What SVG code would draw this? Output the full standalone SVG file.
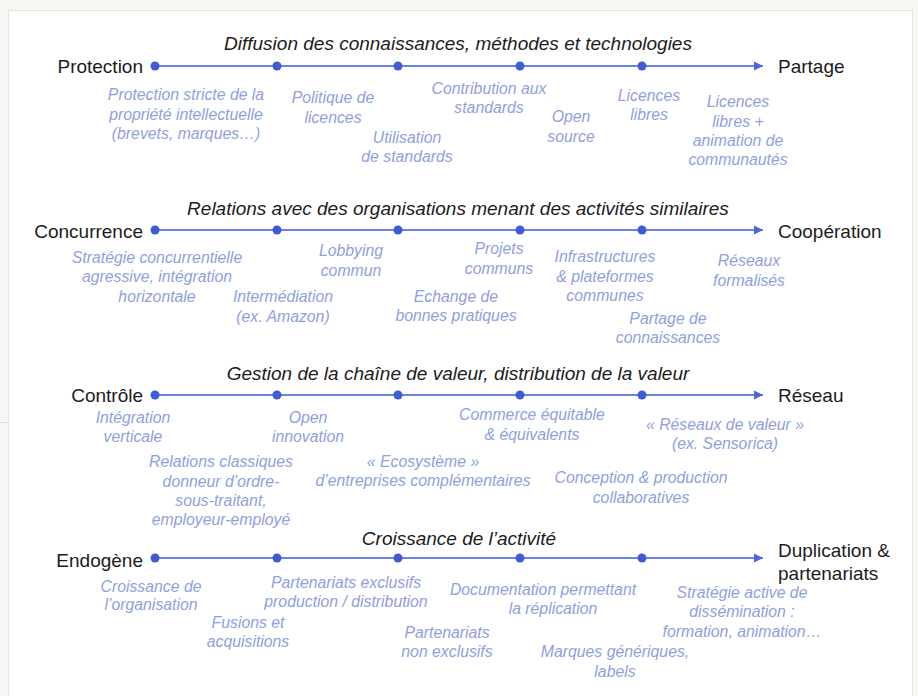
<svg xmlns="http://www.w3.org/2000/svg" width="918" height="696" viewBox="0 0 918 696">
<defs>
<style>
.bg{fill:#f6f6f3}
.panel{fill:#ffffff;stroke:#e4e4e0;stroke-width:1}
.axis{stroke:#6e84de;stroke-width:2;fill:none}
.dot{fill:#3f5cd4}
.head{fill:#4a66d8}
.title{font-family:"Liberation Sans",Arial,sans-serif;font-style:italic;font-size:19px;fill:#1c1c1c;text-anchor:middle}
.end{font-family:"Liberation Sans",Arial,sans-serif;font-size:19px;fill:#1c1c1c}
.l{font-family:"Liberation Sans",Arial,sans-serif;font-style:italic;font-size:15.8px;fill:#8fa0e2;text-anchor:middle}
</style>
<marker id="arr" markerWidth="10" markerHeight="10" refX="9" refY="5" orient="auto" markerUnits="userSpaceOnUse">
<path d="M0,0.5 L9,5 L0,9.5 Z" class="head"/>
</marker>
</defs>
<rect class="bg" x="0" y="0" width="918" height="696"/>
<rect class="panel" x="8.5" y="10.5" width="904" height="700"/>
<line x1="0" y1="422.5" x2="8" y2="422.5" stroke="#e0e0dc" stroke-width="1"/>

<g id="connectors">
<line class="axis" x1="155" y1="66" x2="763" y2="66" marker-end="url(#arr)"/>
<line class="axis" x1="155" y1="230" x2="763" y2="230" marker-end="url(#arr)"/>
<line class="axis" x1="155" y1="395" x2="763" y2="395" marker-end="url(#arr)"/>
<line class="axis" x1="155" y1="558" x2="763" y2="558" marker-end="url(#arr)"/>
</g>

<g id="row1">
<text class="title" x="458" y="50">Diffusion des connaissances, méthodes et technologies</text>
<text class="end" x="143" y="73" text-anchor="end">Protection</text>
<text class="end" x="778" y="73">Partage</text>
<g id="r1-dots">
<circle class="dot" cx="155" cy="66" r="4.5"/><circle class="dot" cx="277" cy="66" r="4.5"/><circle class="dot" cx="398" cy="66" r="4.5"/><circle class="dot" cx="520" cy="66" r="4.5"/><circle class="dot" cx="642" cy="66" r="4.5"/>
</g>
<g id="n-protection-stricte"><text class="l" x="186" y="100">Protection stricte de la</text><text class="l" x="186" y="119.5">propriété intellectuelle</text><text class="l" x="186" y="139">(brevets, marques…)</text></g>
<g id="n-politique"><text class="l" x="333" y="103">Politique de</text><text class="l" x="333" y="123">licences</text></g>
<g id="n-utilisation"><text class="l" x="407" y="143">Utilisation</text><text class="l" x="407" y="162">de standards</text></g>
<g id="n-contribution"><text class="l" x="489" y="94">Contribution aux</text><text class="l" x="489" y="113">standards</text></g>
<g id="n-open-source"><text class="l" x="571" y="122">Open</text><text class="l" x="571" y="142">source</text></g>
<g id="n-licences-libres"><text class="l" x="649" y="101">Licences</text><text class="l" x="649" y="120">libres</text></g>
<g id="n-licences-anim"><text class="l" x="738" y="107">Licences</text><text class="l" x="738" y="127">libres +</text><text class="l" x="738" y="146">animation de</text><text class="l" x="738" y="165">communautés</text></g>
</g>

<g id="row2">
<text class="title" x="458" y="215">Relations avec des organisations menant des activités similaires</text>
<text class="end" x="143" y="238" text-anchor="end">Concurrence</text>
<text class="end" x="778" y="238">Coopération</text>
<g id="r2-dots">
<circle class="dot" cx="155" cy="230" r="4.5"/><circle class="dot" cx="277" cy="230" r="4.5"/><circle class="dot" cx="398" cy="230" r="4.5"/><circle class="dot" cx="520" cy="230" r="4.5"/><circle class="dot" cx="642" cy="230" r="4.5"/>
</g>
<g id="n-strategie-conc"><text class="l" x="157" y="263">Stratégie concurrentielle</text><text class="l" x="157" y="282">agressive, intégration</text><text class="l" x="157" y="302">horizontale</text></g>
<g id="n-lobbying"><text class="l" x="351" y="256">Lobbying</text><text class="l" x="351" y="276">commun</text></g>
<g id="n-intermediation"><text class="l" x="283" y="302">Intermédiation</text><text class="l" x="283" y="322">(ex. Amazon)</text></g>
<g id="n-echange"><text class="l" x="456" y="302">Echange de</text><text class="l" x="456" y="321">bonnes pratiques</text></g>
<g id="n-projets"><text class="l" x="499" y="254">Projets</text><text class="l" x="499" y="274">communs</text></g>
<g id="n-infra"><text class="l" x="605" y="262">Infrastructures</text><text class="l" x="605" y="282">&amp; plateformes</text><text class="l" x="605" y="301">communes</text></g>
<g id="n-partage-conn"><text class="l" x="668" y="324">Partage de</text><text class="l" x="668" y="343">connaissances</text></g>
<g id="n-reseaux-form"><text class="l" x="749" y="266">Réseaux</text><text class="l" x="749" y="286">formalisés</text></g>
</g>

<g id="row3">
<text class="title" x="458" y="380">Gestion de la chaîne de valeur, distribution de la valeur</text>
<text class="end" x="143" y="402" text-anchor="end">Contrôle</text>
<text class="end" x="778" y="402">Réseau</text>
<g id="r3-dots">
<circle class="dot" cx="155" cy="395" r="4.5"/><circle class="dot" cx="277" cy="395" r="4.5"/><circle class="dot" cx="398" cy="395" r="4.5"/><circle class="dot" cx="520" cy="395" r="4.5"/><circle class="dot" cx="642" cy="395" r="4.5"/>
</g>
<g id="n-integration-vert"><text class="l" x="133" y="423">Intégration</text><text class="l" x="133" y="442">verticale</text></g>
<g id="n-open-innovation"><text class="l" x="308" y="423">Open</text><text class="l" x="308" y="442">innovation</text></g>
<g id="n-relations-class"><text class="l" x="221" y="467">Relations classiques</text><text class="l" x="221" y="487">donneur d’ordre-</text><text class="l" x="221" y="506">sous-traitant,</text><text class="l" x="221" y="525">employeur-employé</text></g>
<g id="n-ecosysteme"><text class="l" x="423" y="467">« Ecosystème »</text><text class="l" x="423" y="486">d’entreprises complémentaires</text></g>
<g id="n-commerce"><text class="l" x="532" y="420">Commerce équitable</text><text class="l" x="532" y="440">&amp; équivalents</text></g>
<g id="n-reseaux-valeur"><text class="l" x="725" y="430">« Réseaux de valeur »</text><text class="l" x="725" y="449">(ex. Sensorica)</text></g>
<g id="n-conception"><text class="l" x="641" y="483">Conception &amp; production</text><text class="l" x="641" y="503">collaboratives</text></g>
</g>

<g id="row4">
<text class="title" x="459" y="545">Croissance de l’activité</text>
<text class="end" x="143" y="567" text-anchor="end">Endogène</text>
<text class="end" x="778" y="557">Duplication &amp;</text>
<text class="end" x="778" y="580">partenariats</text>
<g id="r4-dots">
<circle class="dot" cx="155" cy="558" r="4.5"/><circle class="dot" cx="277" cy="558" r="4.5"/><circle class="dot" cx="398" cy="558" r="4.5"/><circle class="dot" cx="520" cy="558" r="4.5"/><circle class="dot" cx="642" cy="558" r="4.5"/>
</g>
<g id="n-croissance-org"><text class="l" x="151" y="592">Croissance de</text><text class="l" x="151" y="610">l’organisation</text></g>
<g id="n-part-exclusifs"><text class="l" x="346" y="588">Partenariats exclusifs</text><text class="l" x="346" y="607">production / distribution</text></g>
<g id="n-fusions"><text class="l" x="248" y="628">Fusions et</text><text class="l" x="248" y="647">acquisitions</text></g>
<g id="n-part-non-excl"><text class="l" x="447" y="638">Partenariats</text><text class="l" x="447" y="657">non exclusifs</text></g>
<g id="n-documentation"><text class="l" x="543" y="595">Documentation permettant</text><text class="l" x="553" y="614">la réplication</text></g>
<g id="n-marques"><text class="l" x="615" y="657">Marques génériques,</text><text class="l" x="615" y="677">labels</text></g>
<g id="n-strategie-active"><text class="l" x="742" y="598">Stratégie active de</text><text class="l" x="742" y="617">dissémination :</text><text class="l" x="742" y="637">formation, animation…</text></g>
</g>
</svg>
